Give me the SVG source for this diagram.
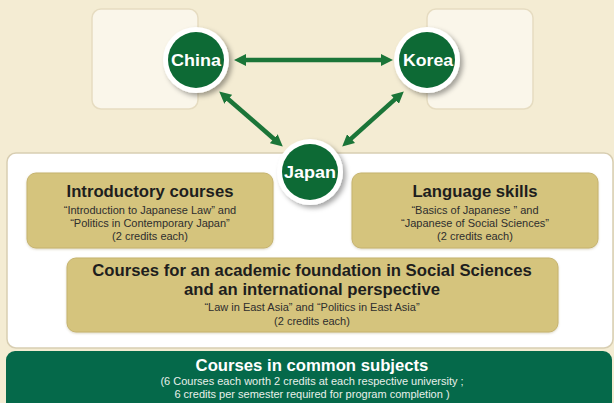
<svg xmlns="http://www.w3.org/2000/svg" width="614" height="403" viewBox="0 0 614 403">
  <defs>
    <filter id="shadow" x="-30%" y="-30%" width="170%" height="170%">
      <feDropShadow dx="3" dy="3" stdDeviation="2.5" flood-color="#000" flood-opacity="0.35"/>
    </filter>
    <filter id="soft" x="-5%" y="-10%" width="110%" height="125%">
      <feDropShadow dx="0" dy="1" stdDeviation="1" flood-color="#8a7a40" flood-opacity="0.3"/>
    </filter>
    <marker id="ah" markerUnits="userSpaceOnUse" markerWidth="12" markerHeight="12" viewBox="0 0 12 12" refX="3" refY="6" orient="auto-start-reverse">
      <path d="M0,0 L12,6 L0,12 z" fill="#1b7538"/>
    </marker>
  </defs>
  <style>
    .bg { fill: #f4ecd3; }
    .faint { fill: #faf6ea; stroke: #e6dcc1; stroke-width: 1.5; }
    .panel { fill: #ffffff; stroke: #d8ceb2; stroke-width: 1.5; }
    .gold { fill: #d5c47d; stroke: #c6b36e; stroke-width: 1; }
    .bar { fill: #05694a; }
    .ring { fill: #ffffff; }
    .dot { fill: #0d6a35; }
    .conn { stroke: #1b7538; stroke-width: 4.5; fill: none; marker-start: url(#ah); marker-end: url(#ah); }
    text { font-family: "Liberation Sans", Arial, sans-serif; text-anchor: middle; }
    .cname { font-size: 17px; font-weight: bold; fill: #ffffff; }
    .title { font-size: 16.7px; font-weight: bold; fill: #1e1e1e; }
    .sub { font-size: 11px; fill: #2e2e2e; }
    .wtitle { font-size: 16.7px; font-weight: bold; fill: #ffffff; }
    .wsub { font-size: 11px; fill: #e8f0ea; }
  </style>

  <rect class="bg" x="0" y="0" width="614" height="403"/>
  <rect class="faint" x="92" y="9" width="106" height="100" rx="9"/>
  <rect class="faint" x="427" y="9" width="106" height="100" rx="9"/>
  <rect class="panel" x="7" y="153" width="606" height="195" rx="9"/>

  <g id="connectors">
    <line class="conn" x1="243" y1="60" x2="384" y2="60"/>
    <line class="conn" x1="226" y1="97.3" x2="276" y2="140.7"/>
    <line class="conn" x1="397.1" y1="97.4" x2="348.9" y2="140.6"/>
  </g>

  <g id="china">
    <circle class="ring" cx="196" cy="60" r="33" filter="url(#shadow)"/>
    <circle class="dot" cx="196" cy="60" r="28"/>
    <text class="cname" x="196" y="66" textLength="50" lengthAdjust="spacingAndGlyphs">China</text>
  </g>
  <g id="korea">
    <circle class="ring" cx="427" cy="60" r="33" filter="url(#shadow)"/>
    <circle class="dot" cx="427" cy="60" r="28"/>
    <text class="cname" x="428" y="66" textLength="50" lengthAdjust="spacingAndGlyphs">Korea</text>
  </g>

  <g id="introductory">
    <rect class="gold" x="27" y="173" width="246" height="75" rx="9" filter="url(#soft)"/>
    <text class="title" x="150" y="197">Introductory courses</text>
    <text class="sub" x="150" y="214">“Introduction to Japanese Law” and</text>
    <text class="sub" x="150" y="227">“Politics in Contemporary Japan”</text>
    <text class="sub" x="150" y="240">(2 credits each)</text>
  </g>

  <g id="language">
    <rect class="gold" x="352" y="173" width="246" height="75" rx="9" filter="url(#soft)"/>
    <text class="title" x="475" y="197">Language skills</text>
    <text class="sub" x="475" y="214">“Basics of Japanese ” and</text>
    <text class="sub" x="475" y="227">“Japanese of Social Sciences”</text>
    <text class="sub" x="475" y="240">(2 credits each)</text>
  </g>

  <g id="japan">
    <circle class="ring" cx="310" cy="172" r="33" filter="url(#shadow)"/>
    <circle class="dot" cx="310" cy="172" r="28"/>
    <text class="cname" x="310" y="178" textLength="52" lengthAdjust="spacingAndGlyphs">Japan</text>
  </g>

  <g id="foundation">
    <rect class="gold" x="67" y="258" width="491" height="74" rx="9" filter="url(#soft)"/>
    <text class="title" x="312" y="276">Courses for an academic foundation in Social Sciences</text>
    <text class="title" x="312" y="295">and an international perspective</text>
    <text class="sub" x="312" y="311">“Law in East Asia” and “Politics in East Asia”</text>
    <text class="sub" x="312" y="325">(2 credits each)</text>
  </g>

  <g id="common">
    <rect class="bar" x="6" y="351" width="606" height="70" rx="9"/>
    <text class="wtitle" x="312" y="371">Courses in common subjects</text>
    <text class="wsub" x="312" y="385">(6 Courses each worth 2 credits at each respective university ;</text>
    <text class="wsub" x="312" y="398">6 credits per semester required for program completion )</text>
  </g>
</svg>
